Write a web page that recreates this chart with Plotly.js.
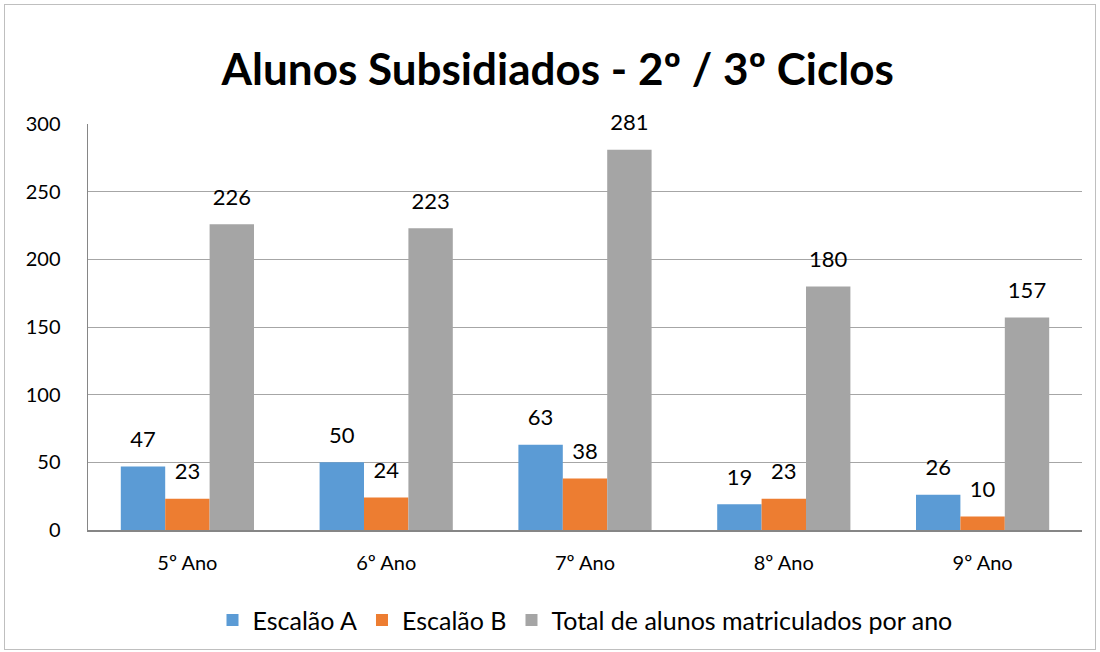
<!DOCTYPE html>
<html><head><meta charset="utf-8">
<script src="https://cdn.plot.ly/plotly-3.0.1.min.js"></script>
<style>body{margin:0;}#wrap{position:relative;width:1100px;height:652px;}#frame{position:absolute;left:4px;top:4px;width:1092px;height:646px;border:1px solid #bfbfbf;box-sizing:border-box;pointer-events:none;}</style>
</head><body>
<div id="wrap"><div id="chart" style="width:1100px;height:652px;"></div><div id="frame"></div></div>
<script>
const categories = ["5º Ano", "6º Ano", "7º Ano", "8º Ano", "9º Ano"];
const escalaoA = [47, 50, 63, 19, 26];
const escalaoB = [23, 24, 38, 23, 10];
const total = [226, 223, 281, 180, 157];
const seriesNames = ["Escalão A", "Escalão B", "Total de alunos matriculados por ano"];
const yTicks = [0, 50, 100, 150, 200, 250, 300];

const font = "Lato, 'Open Sans', sans-serif";
function bar(name, y, color) {
  return {type: 'bar', name: name, x: categories, y: y,
    marker: {color: color, line: {width: 0}}};
}
function lbl(name, y) {
  return {type: 'scatter', mode: 'markers+text', name: name + ' rótulos', x: categories, y: y,
    text: y.map(String), textposition: 'top center', cliponaxis: false,
    textfont: {size: 22, color: '#000', family: font},
    marker: {size: 21, opacity: 0}, showlegend: false, hoverinfo: 'skip'};
}
const data = [
  bar(seriesNames[0], escalaoA, '#5b9bd5'),
  bar(seriesNames[1], escalaoB, '#ed7d31'),
  bar(seriesNames[2], total, '#a5a5a5'),
  lbl(seriesNames[0], escalaoA),
  lbl(seriesNames[1], escalaoB),
  lbl(seriesNames[2], total)
];
const layout = {
  width: 1100, height: 652,
  margin: {l: 88, r: 18, t: 124, b: 122, autoexpand: false},
  paper_bgcolor: '#fff', plot_bgcolor: '#fff',
  font: {family: font, color: '#000'},
  title: {text: '<b>Alunos Subsidiados - 2º / 3º Ciclos</b>', font: {size: 44, family: font, color: '#000'},
    x: 0.507, xanchor: 'center', y: 0.893, yanchor: 'middle'},
  barmode: 'group', bargap: 0.33, bargroupgap: 0,
  scattermode: 'group', scattergap: 0.33,
  xaxis: {tickfont: {size: 20}, showline: true, linecolor: '#868686', linewidth: 1.5,
    ticks: '', ticklabelstandoff: 14, showgrid: false, mirror: false},
  yaxis: {range: [0, 300], tickvals: yTicks, tickfont: {size: 20}, showline: true,
    linecolor: '#868686', linewidth: 1.5, gridcolor: '#a6a6a6', gridwidth: 1,
    zeroline: false, ticks: '', ticklabelstandoff: 22, fixedrange: true},
  legend: {orientation: 'h', x: 0.5, xanchor: 'center', y: -0.222, yanchor: 'middle',
    font: {size: 25}, itemwidth: 30, traceorder: 'normal', itemsizing: 'constant'},
  showlegend: true
};
Plotly.newPlot('chart', data, layout, {displayModeBar: false, staticPlot: true});
</script>
</body></html>
